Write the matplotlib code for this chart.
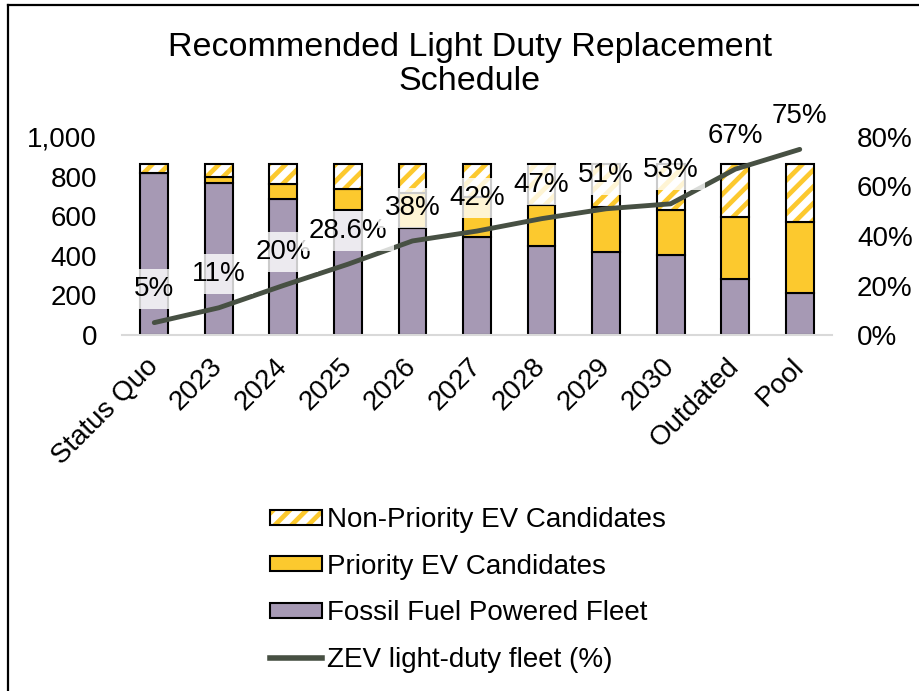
import matplotlib.pyplot as plt
from matplotlib.lines import Line2D
from matplotlib.patches import Patch

plt.rcParams['font.family'] = ['Liberation Sans', 'DejaVu Sans']
plt.rcParams['hatch.linewidth'] = 3.4

# Dados
categorias = ['Status Quo', '2023', '2024', '2025', '2026', '2027',
              '2028', '2029', '2030', 'Outdated', 'Pool']
fossil = [818, 768, 689, 630, 539, 496, 451, 421, 404, 283, 214]
prioridade = [0, 28, 74, 109, 177, 203, 206, 224, 227, 311, 358]
nao_prioridade = [46, 68, 101, 125, 148, 165, 207, 219, 233, 270, 292]
zev_pct = [5, 11, 20, 28.6, 38, 42, 47, 51, 53, 67, 75]
zev_rotulos = ['5%', '11%', '20%', '28.6%', '38%', '42%', '47%',
               '51%', '53%', '67%', '75%']

roxo = '#A699B4'
amarelo = '#FCC92E'
verde_escuro = '#475043'

fig = plt.figure(figsize=(9.2, 6.91), dpi=100)
ax = fig.add_axes([122 / 920, 1 - 335 / 691, (832 - 122) / 920, 198 / 691])
ax2 = ax.twinx()

x = range(len(categorias))
largura = 0.43
base_np = [f + p for f, p in zip(fossil, prioridade)]

ax.bar(x, fossil, largura, color=roxo, edgecolor='black', linewidth=1.5)
ax.bar(x, prioridade, largura, bottom=fossil, color=amarelo,
       edgecolor='black', linewidth=1.5)
# listras amarelas sobre fundo branco, contorno preto por cima
ax.bar(x, nao_prioridade, largura, bottom=base_np, color='white',
       edgecolor=amarelo, hatch='//', linewidth=0)
ax.bar(x, nao_prioridade, largura, bottom=base_np, fill=False,
       edgecolor='black', linewidth=1.5)

ax.set_ylim(0, 1000)
ax.set_xlim(-0.5, len(categorias) - 0.5)
ax.set_yticks(range(0, 1001, 200))
ax.set_yticklabels([f'{v:,}' for v in range(0, 1001, 200)])
ax.set_xticks(list(x))
ax.set_xticklabels(categorias, rotation=45, ha='right', va='center',
                   rotation_mode='anchor')
ax.tick_params(axis='y', length=0, labelsize=20, pad=18)
ax.tick_params(axis='x', length=0, labelsize=20, pad=20)
for s in ['top', 'left', 'right']:
    ax.spines[s].set_visible(False)
ax.spines['bottom'].set_color('#D9D9D9')
ax.spines['bottom'].set_linewidth(1.5)

zev = [v / 100 for v in zev_pct]
ax2.plot(list(x), zev, color=verde_escuro, linewidth=3.5,
         solid_capstyle='round', zorder=3)
ax2.set_ylim(0, 0.8)
ax2.set_yticks([0, 0.2, 0.4, 0.6, 0.8])
ax2.set_yticklabels(['0%', '20%', '40%', '60%', '80%'])
ax2.tick_params(axis='y', length=0, labelsize=20, pad=18)
for s in ax2.spines.values():
    s.set_visible(False)

for xi, yi, rot in zip(x, zev, zev_rotulos):
    ax2.annotate(rot, (xi, yi), xytext=(0, 24), textcoords='offset points',
                 ha='center', va='center', fontsize=20, zorder=4,
                 bbox=dict(boxstyle='square,pad=0.25', fc='white',
                           ec='none', alpha=0.8))

fig.text(470 / 920, 1 - 32 / 691,
         'Recommended Light Duty Replacement\nSchedule',
         ha='center', va='top', fontsize=24.5, linespacing=1.12)

h_np = (Patch(facecolor='white', edgecolor=amarelo, hatch='//', linewidth=0),
        Patch(fill=False, edgecolor='black', linewidth=1.5))
h_p = Patch(facecolor=amarelo, edgecolor='black', linewidth=1.5)
h_f = Patch(facecolor=roxo, edgecolor='black', linewidth=1.5)
h_l = Line2D([], [], color=verde_escuro, linewidth=4)
fig.legend([h_np, h_p, h_f, h_l],
           ['Non-Priority EV Candidates', 'Priority EV Candidates',
            'Fossil Fuel Powered Fleet', 'ZEV light-duty fleet (%)'],
           loc='upper left', bbox_to_anchor=(245 / 920, 1 - 482 / 691),
           frameon=False, fontsize=20, handlelength=1.87, handleheight=0.45,
           handletextpad=0.2, labelspacing=0.74)

# moldura (só esquerda e topo visíveis)
fig.add_artist(Line2D([8 / 920, 8 / 920], [0, 1 - 5 / 691],
                      color='black', linewidth=1.6))
fig.add_artist(Line2D([8 / 920, 1], [1 - 5 / 691, 1 - 5 / 691],
                      color='black', linewidth=1.6))

fig.savefig('out.png', dpi=100)
